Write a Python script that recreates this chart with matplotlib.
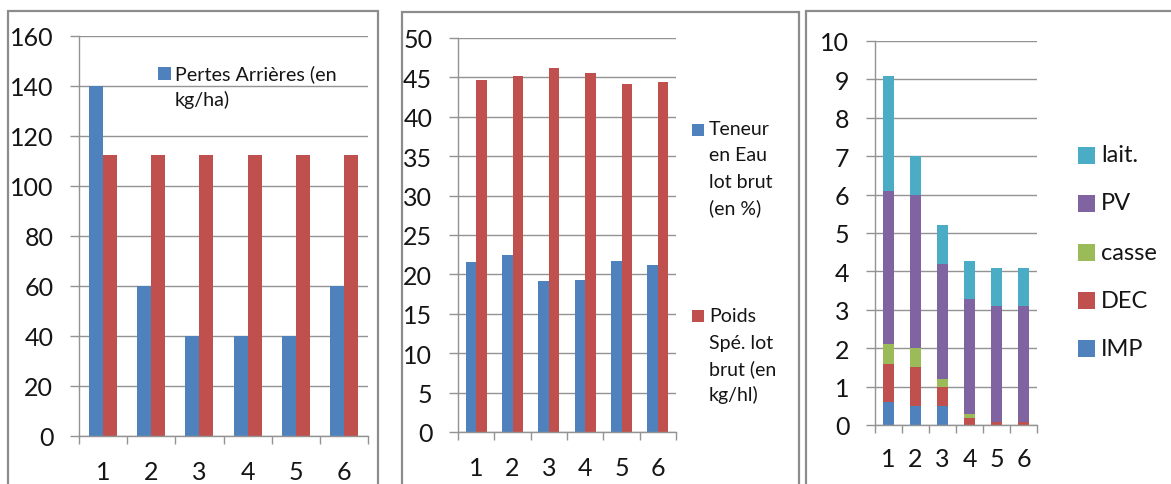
import numpy as np
import matplotlib
matplotlib.use("Agg")
import matplotlib.pyplot as plt
from matplotlib.patches import Rectangle

plt.rcParams.update({"font.family": ["Lato", "DejaVu Sans"], "font.size": 18})

# ---- data ----
cats = ["1", "2", "3", "4", "5", "6"]

pertes = [140, 60, 40, 40, 40, 60]
pertes_red = [112.5, 112.5, 112.5, 112.5, 112.5, 112.5]

teneur_eau = [21.6, 22.5, 19.1, 19.3, 21.7, 21.2]
poids_spe = [44.7, 45.2, 46.2, 45.5, 44.1, 44.4]

stack_names = ["IMP", "DEC", "casse", "PV", "lait."]
imp = [0.6, 0.5, 0.5, 0.0, 0.0, 0.0]
dec = [1.0, 1.0, 0.5, 0.18, 0.07, 0.07]
casse = [0.5, 0.5, 0.2, 0.1, 0.0, 0.0]
pv = [4.0, 4.0, 3.0, 3.0, 3.03, 3.03]
lait = [3.0, 1.0, 1.0, 1.0, 1.0, 1.0]

BLUE, RED, GREEN, PURPLE, AQUA = "#4F81BD", "#C0504D", "#9BBB59", "#8064A2", "#4BACC6"
GRID = "#939393"
FRAME = "#8c8c8c"
TXT = "#151515"

W, H = 1171, 485
fig = plt.figure(figsize=(W / 100, H / 100), dpi=100)


def add_ax(x0, x1, y0, y1):
    return fig.add_axes([x0 / W, 1 - y1 / H, (x1 - x0) / W, (y1 - y0) / H])


def frame(x0, x1, y0, y1):
    fig.patches.append(Rectangle((x0 / W, 1 - y1 / H), (x1 - x0) / W, (y1 - y0) / H,
                                 transform=fig.transFigure, fill=False, ec=FRAME, lw=1.6))


def style(ax, ymax, step, xpad):
    ax.set_xlim(-0.5, 5.5)
    ax.set_ylim(0, ymax)
    ax.set_yticks(np.arange(0, ymax + 1e-9, step))
    ax.set_xticks(np.arange(-0.5, 6, 1))
    ax.set_xticklabels([])
    ax.set_xticks(range(6), minor=True)
    ax.set_xticklabels(cats, minor=True)
    ax.tick_params(axis="x", which="major", length=6, width=1, color=GRID, direction="out")
    ax.tick_params(axis="x", which="minor", length=0, pad=xpad, colors=TXT)
    ax.tick_params(axis="y", length=6.5, width=1, color=GRID, pad=12, labelcolor=TXT)
    for s in ["top", "right"]:
        ax.spines[s].set_visible(False)
    for s in ["left", "bottom"]:
        ax.spines[s].set_color(GRID)
        ax.spines[s].set_linewidth(1)
    ax.yaxis.grid(True, color=GRID, lw=1)
    ax.set_axisbelow(True)


def legend_entry(xs, ys, size, color, lines, xt, y_first, spacing, fs):
    fig.patches.append(Rectangle((xs / W, 1 - (ys + size / 2) / H), size / W, size / H,
                                 transform=fig.transFigure, fc=color, ec="none"))
    for k, line in enumerate(lines):
        fig.text(xt / W, 1 - (y_first + k * spacing) / H, line, ha="left", va="center",
                 fontsize=fs, color=TXT)


x = np.arange(6)

# ---- panel 1 ----
frame(8, 378, 12, 520)
ax1 = add_ax(79, 368, 37, 437)
w1 = 0.29
ax1.bar(x - w1 / 2, pertes, w1, color=BLUE)
ax1.bar(x + w1 / 2, pertes_red, w1, color=RED)
style(ax1, 160, 20, 17)
legend_entry(158, 74.5, 13, BLUE, ["Pertes Arrières (en", "kg/ha)"], 175, 74, 26, 14.2)

# ---- panel 2 ----
frame(402, 799, 13, 520)
ax2 = add_ax(458, 676, 39, 433)
w2 = 0.285
ax2.bar(x - w2 / 2, teneur_eau, w2, color=BLUE)
ax2.bar(x + w2 / 2, poids_spe, w2, color=RED)
style(ax2, 50, 5, 17)
legend_entry(692, 131, 12, BLUE, ["Teneur", "en Eau", "lot brut", "(en %)"], 709, 130, 26, 14)
legend_entry(692, 317, 12, RED, ["Poids", "Spé. lot", "brut (en", "kg/hl)"], 709, 317, 26, 14)

# ---- panel 3 ----
frame(806, 1200, 12, 520)
ax3 = add_ax(875, 1037, 42, 426)
w3 = 0.43
bottom = np.zeros(6)
stack_colors = [BLUE, RED, GREEN, PURPLE, AQUA]
for vals, col in zip([imp, dec, casse, pv, lait], stack_colors):
    ax3.bar(x, vals, w3, bottom=bottom, color=col)
    bottom += np.array(vals)
style(ax3, 10, 1, 16)
leg_y = [349, 301, 253, 204, 156]
for name, col, yy in zip(stack_names, stack_colors, leg_y):
    legend_entry(1078, yy, 17, col, [name], 1101, yy, 0, 17)

fig.savefig("out.png", dpi=100)
